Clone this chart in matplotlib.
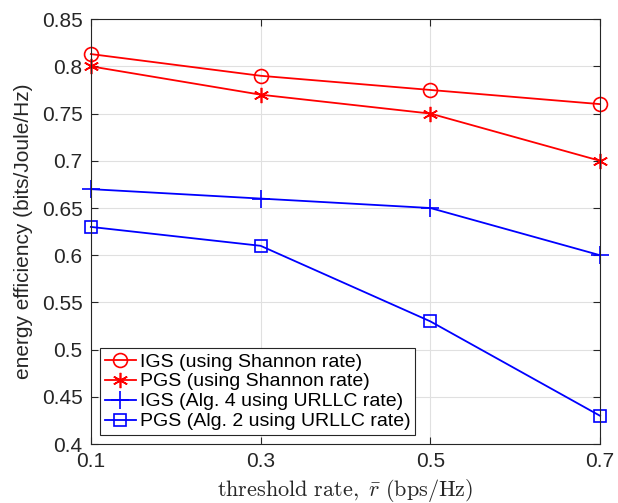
import matplotlib
matplotlib.use("Agg")
import matplotlib.pyplot as plt

plt.rcParams['font.family'] = ['Liberation Sans', 'DejaVu Sans']
plt.rcParams['mathtext.fontset'] = 'cm'

x = [0.1, 0.3, 0.5, 0.7]
igs_shannon = [0.813, 0.790, 0.775, 0.760]
pgs_shannon = [0.800, 0.770, 0.750, 0.700]
igs_urllc = [0.670, 0.660, 0.650, 0.600]
pgs_urllc = [0.630, 0.610, 0.530, 0.430]
labels = ['IGS (using Shannon rate)', 'PGS (using Shannon rate)',
          'IGS (Alg. 4 using URLLC rate)', 'PGS (Alg. 2 using URLLC rate)']
xticks = [0.1, 0.3, 0.5, 0.7]
yticks = [0.4, 0.45, 0.5, 0.55, 0.6, 0.65, 0.7, 0.75, 0.8, 0.85]

fig = plt.figure(figsize=(6.18, 5.03), dpi=100)
ax = fig.add_axes([0.147, 0.117, 0.824, 0.845])

lw = 1.3
kw = dict(lw=lw, mew=1.2, clip_on=False, zorder=3)
ax.plot(x, igs_shannon, color='#ff0000', marker='o', ms=10, mfc='none', label=labels[0], **kw)
ax.plot(x, pgs_shannon, color='#ff0000', marker=(6, 2, 0), ms=11, label=labels[1], **kw)
ax.plot(x, igs_urllc, color='#0000ff', marker='+', ms=13, label=labels[2], **kw)
ax.plot(x, pgs_urllc, color='#0000ff', marker='s', ms=8.5, mfc='none', label=labels[3], **kw)

ax.set_xlim(0.1, 0.7)
ax.set_ylim(0.4, 0.85)
ax.set_xticks(xticks)
ax.set_xticklabels(['0.1', '0.3', '0.5', '0.7'])
ax.set_yticks(yticks)
ax.set_yticklabels(['0.4', '0.45', '0.5', '0.55', '0.6', '0.65', '0.7', '0.75', '0.8', '0.85'])
ax.grid(True, color='#e0e0e0', lw=0.8)
ax.set_axisbelow(True)
ax.tick_params(direction='in', length=5, width=0.8, labelsize=15, colors='#262626',
               top=True, right=True, pad=6)
for s in ax.spines.values():
    s.set_color('#262626')
    s.set_linewidth(0.8)
    s.set_zorder(4)

ax.set_ylabel('energy efficiency (bits/Joule/Hz)', fontsize=15, color='#262626', labelpad=6)
ax.set_xlabel(r'$\mathrm{threshold\ rate,\ }\bar{r}\mathrm{\ (bps/Hz)}$', fontsize=16,
              color='#262626', labelpad=4)

leg = ax.legend(loc='lower left', bbox_to_anchor=(0.018, 0.021), fontsize=14,
                fancybox=False, framealpha=1, edgecolor='#262626', handlelength=1.6,
                handletextpad=0.2, borderpad=0.25, labelspacing=0.12, borderaxespad=0)
leg.get_frame().set_linewidth(0.8)
leg.set_zorder(5)

fig.savefig('out.png', dpi=100)
